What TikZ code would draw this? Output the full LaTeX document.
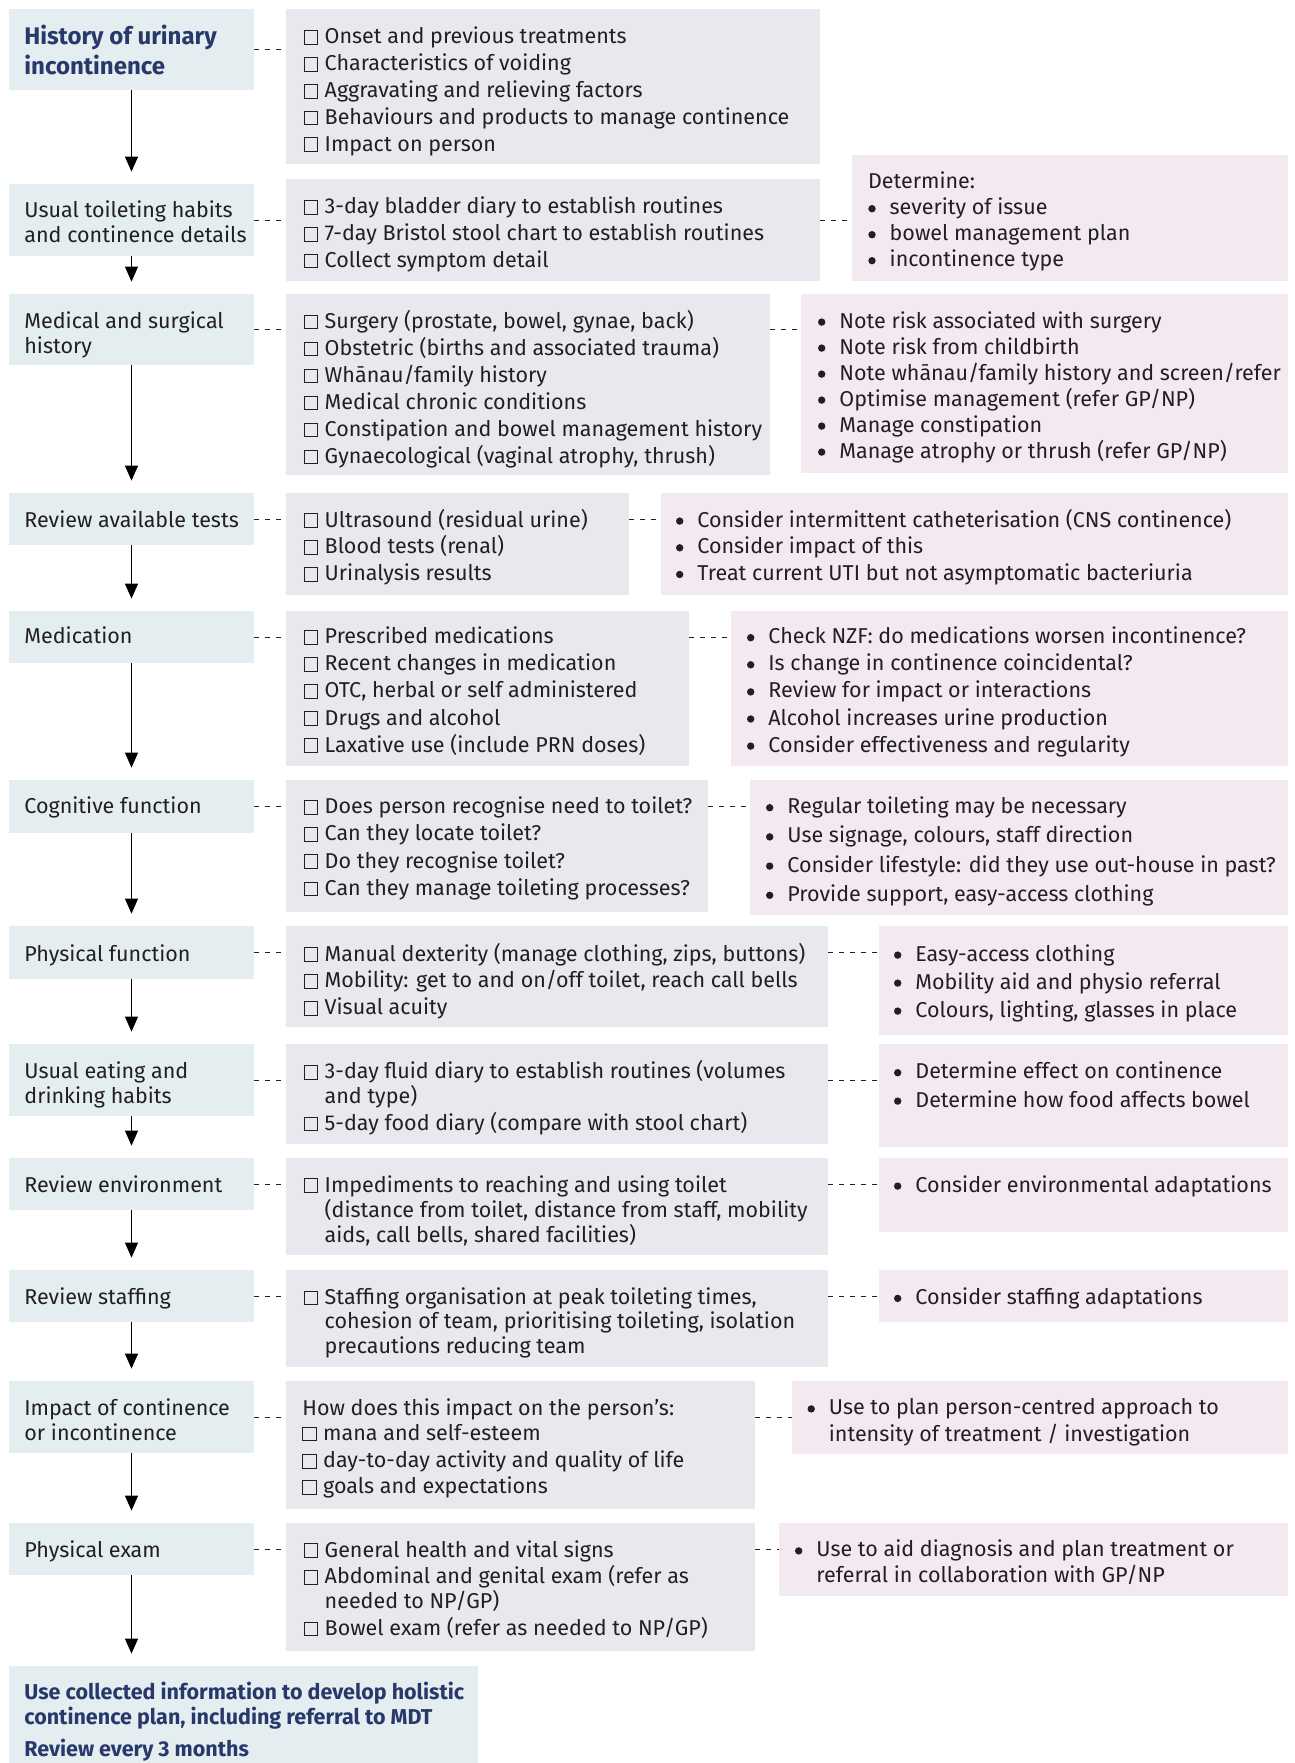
\documentclass[tikz,border=0pt]{standalone}
\usepackage{fontspec}
\setmainfont{Fira Sans}
\usetikzlibrary{arrows.meta,fit}
\definecolor{lblue}{RGB}{228,238,241}
\definecolor{mgray}{RGB}{232,233,238}
\definecolor{rpink}{RGB}{242,234,240}
\definecolor{navy}{RGB}{40,56,106}
\definecolor{txt}{RGB}{35,31,32}
\newcommand{\T}{\rule{0pt}{10pt}}
\newcommand{\chk}{{\fboxsep=0pt\fboxrule=0.45pt\fbox{\rule{0pt}{6.4pt}\rule{6.2pt}{0pt}}}\hspace{3.3pt}}
\newcommand{\chkind}{\hspace{10.4pt}}
\newcommand{\bul}{\makebox[8.2pt][l]{\hspace{-2.5pt}\tikz[baseline={(0pt,-3pt)}]\fill[txt] (1.85pt,0pt) circle (1.85pt);}}
\newcommand{\bulind}{\hspace{8.2pt}}
\newcommand{\boxat}[6]{\node[#1, fit={(#3,#4)(#5,#6)}] (#2) {};}
\tikzset{
  lbox/.style={fill=lblue, draw=none, inner sep=0pt},
  mbox/.style={fill=mgray, draw=none, inner sep=0pt},
  rbox/.style={fill=rpink, draw=none, inner sep=0pt},
  tx/.style={anchor=north west, inner sep=0pt, align=left, text=txt, font=\fontsize{10.75}{#1}\selectfont},
  tx/.default=13.4pt,
  ttl/.style={anchor=north west, inner sep=0pt, align=left, text=navy, font=\fontsize{12}{15.2}\selectfont\bfseries},
  fin/.style={anchor=north west, inner sep=0pt, align=left, text=navy, font=\fontsize{10.75}{12.4}\selectfont\bfseries},
  flow/.style={-{Triangle[length=7.5pt,width=6.5pt]}, line width=0.65pt, draw=black},
  dashcon/.style={draw=txt, line width=0.5pt, dash pattern=on 2.5pt off 3pt}
}
\begin{document}
\begin{tikzpicture}[x=0.5pt,y=-0.5pt]
\useasboundingbox (0,0) rectangle (1295,1763);
% ---------- boxes ----------
\boxat{lbox}{L1}{9}{9}{254}{90}
\boxat{mbox}{M1}{286}{9}{820}{164}
\boxat{lbox}{L2}{9}{184}{254}{256}
\boxat{mbox}{M2}{286}{179}{820}{281}
\boxat{rbox}{R2}{852}{155}{1288}{281}
\boxat{lbox}{L3}{9}{294}{254}{365}
\boxat{mbox}{M3}{286}{294}{770}{475}
\boxat{rbox}{R3}{801}{294}{1288}{473}
\boxat{lbox}{L4}{9}{493}{254}{545}
\boxat{mbox}{M4}{286}{493}{629}{595}
\boxat{rbox}{R4}{661}{493}{1288}{595}
\boxat{lbox}{L5}{9}{611}{254}{663}
\boxat{mbox}{M5}{286}{611}{689}{766}
\boxat{rbox}{R5}{731}{611}{1288}{766}
\boxat{lbox}{L6}{9}{780}{254}{833}
\boxat{mbox}{M6}{286}{780}{708}{912}
\boxat{rbox}{R6}{750}{780}{1288}{915}
\boxat{lbox}{L7}{9}{926}{254}{979}
\boxat{mbox}{M7}{286}{926}{828}{1027}
\boxat{rbox}{R7}{879}{926}{1288}{1035}
\boxat{lbox}{L8}{9}{1044}{254}{1116}
\boxat{mbox}{M8}{286}{1044}{828}{1144}
\boxat{rbox}{R8}{879}{1044}{1288}{1147}
\boxat{lbox}{L9}{9}{1158}{254}{1210}
\boxat{mbox}{M9}{286}{1158}{828}{1255}
\boxat{rbox}{R9}{879}{1158}{1288}{1232}
\boxat{lbox}{L10}{9}{1270}{254}{1322}
\boxat{mbox}{M10}{286}{1270}{828}{1367}
\boxat{rbox}{R10}{879}{1270}{1288}{1322}
\boxat{lbox}{L11}{9}{1381}{254}{1453}
\boxat{mbox}{M11}{286}{1381}{755}{1509}
\boxat{rbox}{R11}{792}{1381}{1288}{1454}
\boxat{lbox}{L12}{9}{1523}{254}{1575}
\boxat{mbox}{M12}{286}{1523}{755}{1651}
\boxat{rbox}{R12}{779}{1523}{1288}{1596}
\boxat{lbox}{F}{9}{1666}{478}{1763}
% ---------- arrows ----------
\foreach \a/\b in {L1/L2,L2/L3,L3/L4,L4/L5,L5/L6,L6/L7,L7/L8,L8/L9,L9/L10,L10/L11,L11/L12}
  \draw[flow] (\a.south) -- ([yshift=6pt]\b.north);
\draw[flow] (L12.south) -- ([yshift=6pt]L12.south |- F.north);
% ---------- dashed connectors ----------
\foreach \i in {1,...,12}
  \draw[dashcon] (L\i.east) -- (L\i.east -| M\i.west);
\foreach \i in {2,...,12}
  \draw[dashcon] (L\i.east -| M\i.east) -- (L\i.east -| R\i.west);
% ---------- texts (north west = first baseline - 20) ----------
\node[ttl] (tL1) at (24,24) {\T History of urinary\\incontinence};
\node[tx] (tM1) at (303.5,23.5) {\T\chk Onset and previous treatments\\\chk Characteristics of voiding\\\chk Aggravating and relieving factors\\\chk Behaviours and products to manage continence\\\chk Impact on person};

\node[tx=12.8pt] (tL2) at (24,196.7) {\T Usual toileting habits\\and continence details};
\node[tx] (tM2) at (303.5,193.3) {\T\chk 3-day bladder diary to establish routines\\\chk 7-day Bristol stool chart to establish routines\\\chk Collect symptom detail};
\node[tx=13pt] (tR2) at (867.7,168.3) {\T Determine:\\\hspace{2.6pt}\bul severity of issue\\\hspace{2.6pt}\bul bowel management plan\\\hspace{2.6pt}\bul incontinence type};

\node[tx=12.4pt] (tL3) at (24,307.9) {\T Medical and surgical\\history};
\node[tx=13.5pt] (tM3) at (303.5,307.9) {\T\chk Surgery (prostate, bowel, gynae, back)\\\chk Obstetric (births and associated trauma)\\\chk Whānau/family history\\\chk Medical chronic conditions\\\chk Constipation and bowel management history\\\chk Gynaecological (vaginal atrophy, thrush)};
\node[tx=13pt] (tR3) at (822.6,307.7) {\T\bul Note risk associated with surgery\\\bul Note risk from childbirth\\\bul Note whānau/family history and screen/refer\\\bul Optimise management (refer GP/NP)\\\bul Manage constipation\\\bul Manage atrophy or thrush (refer GP/NP)};

\node[tx] (tL4) at (24,506.7) {\T Review available tests};
\node[tx=13.35pt] (tM4) at (303.5,506.7) {\T\chk Ultrasound (residual urine)\\\chk Blood tests (renal)\\\chk Urinalysis results};
\node[tx=13.35pt] (tR4) at (680.6,506.7) {\T\bul Consider intermittent catheterisation (CNS continence)\\\bul Consider impact of this\\\bul Treat current UTI but not asymptomatic bacteriuria};

\node[tx] (tL5) at (24,623.3) {\T Medication};
\node[tx=13.55pt] (tM5) at (303.5,623.3) {\T\chk Prescribed medications\\\chk Recent changes in medication\\\chk OTC, herbal or self administered\\\chk Drugs and alcohol\\\chk Laxative use (include PRN doses)};
\node[tx=13.55pt] (tR5) at (751.6,623.3) {\T\bul Check NZF: do medications worsen incontinence?\\\bul Is change in continence coincidental?\\\bul Review for impact or interactions\\\bul Alcohol increases urine production\\\bul Consider effectiveness and regularity};

\node[tx] (tL6) at (24,793.3) {\T Cognitive function};
\node[tx=13.6pt] (tM6) at (303.5,793.3) {\T\chk Does person recognise need to toilet?\\\chk Can they locate toilet?\\\chk Do they recognise toilet?\\\chk Can they manage toileting processes?};
\node[tx=14.6pt] (tR6) at (770.6,793.3) {\T\bul Regular toileting may be necessary\\\bul Use signage, colours, staff direction\\\bul Consider lifestyle: did they use out-house in past?\\\bul Provide support, easy-access clothing};

\node[tx] (tL7) at (24,940.7) {\T Physical function};
\node[tx=13.35pt] (tM7) at (303.5,940.7) {\T\chk Manual dexterity (manage clothing, zips, buttons)\\\chk Mobility: get to and on/off toilet, reach call bells\\\chk Visual acuity};
\node[tx=14pt] (tR7) at (898.6,940.7) {\T\bul Easy-access clothing\\\bul Mobility aid and physio referral\\\bul Colours, lighting, glasses in place};

\node[tx=12.4pt] (tL8) at (24,1058.3) {\T Usual eating and\\drinking habits};
\node[tx=12.2pt] (tM8) at (303.5,1058.3) {\T\chk 3-day fluid diary to establish routines (volumes\\\chkind and type)\\[1.45pt]\chk 5-day food diary (compare with stool chart)};
\node[tx=14.2pt] (tR8) at (898.6,1058.3) {\T\bul Determine effect on continence\\\bul Determine how food affects bowel};

\node[tx] (tL9) at (24,1171.7) {\T Review environment};
\node[tx=12.5pt] (tM9) at (303.5,1171.7) {\T\chk Impediments to reaching and using toilet\\\chkind (distance from toilet, distance from staff, mobility\\\chkind aids, call bells, shared facilities)};
\node[tx] (tR9) at (898.6,1171.7) {\T\bul Consider environmental adaptations};

\node[tx] (tL10) at (24,1284) {\T Review staffing};
\node[tx=12.2pt] (tM10) at (303.5,1284) {\T\chk Staffing organisation at peak toileting times,\\\chkind cohesion of team, prioritising toileting, isolation\\\chkind precautions reducing team};
\node[tx] (tR10) at (898.6,1284) {\T\bul Consider staffing adaptations};

\node[tx=12.5pt] (tL11) at (24,1395) {\T Impact of continence\\or incontinence};
\node[tx=13pt] (tM11) at (302,1395) {\T How does this impact on the person’s:\\[-0.5pt]\chk mana and self-esteem\\[0.65pt]\chk day-to-day activity and quality of life\\\chk goals and expectations};
\node[tx=13.3pt] (tR11) at (812.1,1394.5) {\T\bul Use to plan person-centred approach to\\\bulind intensity of treatment / investigation};

\node[tx] (tL12) at (24,1536.7) {\T Physical exam};
\node[tx=12.5pt] (tM12) at (303.5,1536.7) {\T\chk General health and vital signs\\[0.8pt]\chk Abdominal and genital exam (refer as\\\chkind needed to NP/GP)\\[0.85pt]\chk Bowel exam (refer as needed to NP/GP)};
\node[tx=12.9pt] (tR12) at (799.6,1536.5) {\T\bul Use to aid diagnosis and plan treatment or\\\bulind referral in collaboration with GP/NP};

\node[fin] (tF) at (24,1679) {\T Use collected information to develop holistic\\continence plan, including referral to MDT\\[3.6pt]Review every 3 months};
\end{tikzpicture}
\end{document}
